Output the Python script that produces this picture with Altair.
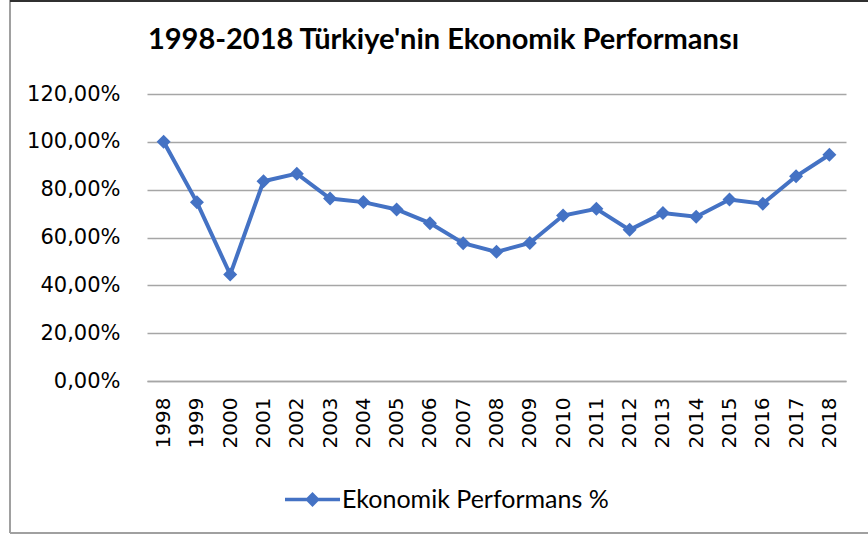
import altair as alt
import pandas as pd

# Yearly economic performance index of Türkiye, in percent
years = [str(y) for y in range(1998, 2019)]
performance = [100.0, 74.7, 44.5, 83.5, 86.7, 76.3, 74.8, 71.7, 66.0, 57.6, 54.0,
               57.7, 69.2, 72.0, 63.2, 70.2, 68.7, 75.9, 74.1, 85.6, 94.6]
series_name = "Ekonomik Performans %"
y_ticks = [0, 20, 40, 60, 80, 100, 120]

df = pd.DataFrame({"year": years, "value": performance, "series": series_name})

BLUE = "#4472C4"
GRID = "#a6a6a6"
AXIS_FONT = "DejaVu Sans"
TEXT_FONT = "Lato"

x = alt.X(
    "year:O",
    scale=alt.Scale(type="point", padding=0.5),
    axis=alt.Axis(
        title=None, labelAngle=270, labelFont=AXIS_FONT, labelFontSize=20,
        labelColor="#000000", ticks=False, tickSize=0, labelPadding=16,
        domainColor=GRID, domainWidth=1.5, grid=False,
    ),
)
y = alt.Y(
    "value:Q",
    scale=alt.Scale(domain=[0, 120]),
    axis=alt.Axis(
        values=y_ticks, title=None, domain=False, ticks=False, tickSize=0,
        labelPadding=27, labelFont=AXIS_FONT, labelFontSize=21, labelColor="#000000",
        labelExpr="replace(format(datum.value, '.2f'), '.', ',') + '%'",
        gridColor=GRID, gridWidth=1.5,
    ),
)
color = alt.Color(
    "series:N",
    scale=alt.Scale(range=[BLUE]),
    legend=alt.Legend(
        title=None, orient="none", legendX=145, legendY=385,
        symbolType="M-1.5,0H1.5M0,-0.27L0.27,0L0,0.27L-0.27,0Z",
        symbolSize=1344, symbolStrokeWidth=3.5,
        symbolFillColor=BLUE, symbolStrokeColor=BLUE,
        labelFont=TEXT_FONT, labelFontSize=25, labelColor="#000000",
        labelOffset=9, labelLimit=500,
    ),
)

line = alt.Chart(df).mark_line(
    strokeWidth=4,
    point=alt.OverlayMarkDef(shape="diamond", size=196, filled=True, color=BLUE),
).encode(x=x, y=y, color=color)

# Frame lines around the chart
one = pd.DataFrame({"k": [0]})
left_edge = alt.Chart(one).mark_rule(color="#a0a0a0", strokeWidth=2).encode(
    x=alt.value(-137), y=alt.value(-94), y2=alt.value(439))
bottom_edge = alt.Chart(one).mark_rule(color="#a0a0a0", strokeWidth=2).encode(
    x=alt.value(-137), x2=alt.value(721), y=alt.value(439))
top_edge = alt.Chart(one).mark_rule(color="#303030", strokeWidth=2).encode(
    x=alt.value(-137), x2=alt.value(721), y=alt.value(-93))

chart = alt.layer(line, left_edge, bottom_edge, top_edge).properties(
    width=699,
    height=287,
    padding={"left": 147, "right": 22, "top": 94, "bottom": 155},
    autosize=alt.AutoSizeParams(type="none"),
    background="white",
    title=alt.TitleParams(
        "1998-2018 Türkiye'nin Ekonomik Performansı",
        font=TEXT_FONT, fontWeight="bold", fontSize=29, color="#000000",
        anchor="middle", frame="group", baseline="alphabetic",
        dx=-53, dy=79, offset=0,
    ),
).configure_view(stroke=None)

chart.save("out.html", embed_options={"renderer": "svg", "actions": False})
